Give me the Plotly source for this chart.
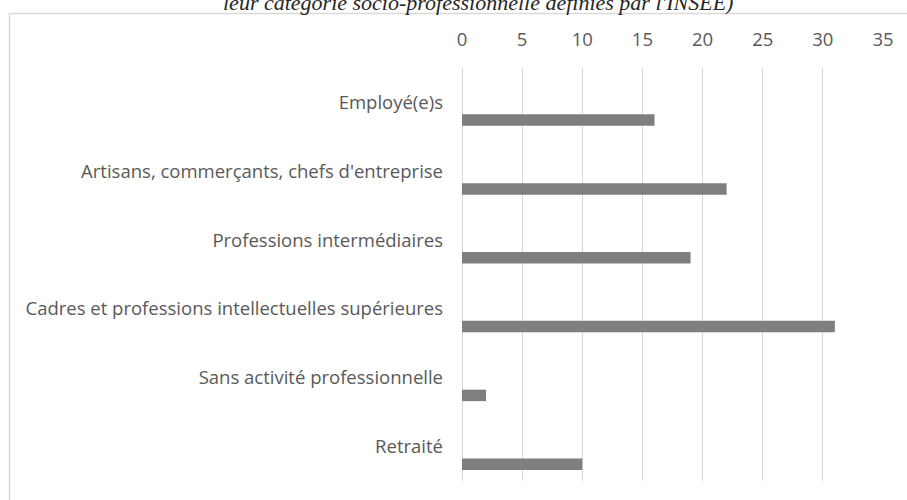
import plotly.graph_objects as go

# Catégories socio-professionnelles (ordre d'affichage, de haut en bas)
categories = [
    "Employé(e)s",
    "Artisans, commerçants, chefs d'entreprise",
    "Professions intermédiaires",
    "Cadres et professions intellectuelles supérieures",
    "Sans activité professionnelle",
    "Retraité",
]
effectifs = [16, 22, 19, 31, 2, 10]
x_ticks = [0, 5, 10, 15, 20, 25, 30, 35]

title_line = "leur catégorie socio-professionnelle définies par l'INSEE)"

W, H = 907, 500
M_L, M_R, M_T, M_B = 462, 24, 68, 19
plot_w = W - M_L - M_R
plot_h = H - M_T - M_B


def px_to_paper_x(px):
    return (px - M_L) / plot_w


def px_to_paper_y(py):
    return (H - M_B - py) / plot_h


label_font = dict(family="Open Sans, sans-serif", size=18.5, color="#595959")
grid_color = "#d9d9d9"

fig = go.Figure()
fig.add_trace(
    go.Bar(
        x=effectifs,
        y=categories,
        orientation="h",
        offset=0.173,
        width=0.167,
        marker=dict(color="#7f7f7f", line=dict(width=0)),
        showlegend=False,
        hoverinfo="x+y",
    )
)

fig.update_layout(
    width=W,
    height=H,
    margin=dict(l=M_L, r=M_R, t=M_T, b=M_B, pad=0),
    paper_bgcolor="white",
    plot_bgcolor="white",
    xaxis=dict(
        side="top",
        range=[0, 35],
        tickvals=x_ticks,
        ticktext=[str(v) for v in x_ticks],
        showgrid=True,
        gridcolor=grid_color,
        gridwidth=1,
        zeroline=True,
        zerolinecolor=grid_color,
        zerolinewidth=1,
        showline=False,
        ticks="",
        tickfont=label_font,
        ticklabelstandoff=17,
        fixedrange=True,
    ),
    yaxis=dict(
        type="category",
        categoryorder="array",
        categoryarray=categories,
        range=[len(categories) - 0.5, -0.5],
        showgrid=False,
        zeroline=False,
        showline=False,
        ticks="",
        tickfont=label_font,
        ticklabelstandoff=18,
        automargin=False,
        fixedrange=True,
    ),
    shapes=[
        # cadre du graphique (bords gauche et haut)
        dict(
            type="line", xref="paper", yref="paper",
            x0=px_to_paper_x(9.5), x1=px_to_paper_x(9.5),
            y0=px_to_paper_y(13.5), y1=px_to_paper_y(H + 5),
            line=dict(color=grid_color, width=1.5),
        ),
        dict(
            type="line", xref="paper", yref="paper",
            x0=px_to_paper_x(9), x1=px_to_paper_x(W + 5),
            y0=px_to_paper_y(13.5), y1=px_to_paper_y(13.5),
            line=dict(color=grid_color, width=1.5),
        ),
    ],
    annotations=[
        dict(
            text=title_line,
            xref="paper", yref="paper",
            x=px_to_paper_x(478), y=px_to_paper_y(2),
            xanchor="center", yanchor="middle",
            showarrow=False,
            font=dict(family="Liberation Serif, serif", size=22,
                      color="#262626", style="italic", weight="normal"),
        )
    ],
)

fig.write_html("out.html")
